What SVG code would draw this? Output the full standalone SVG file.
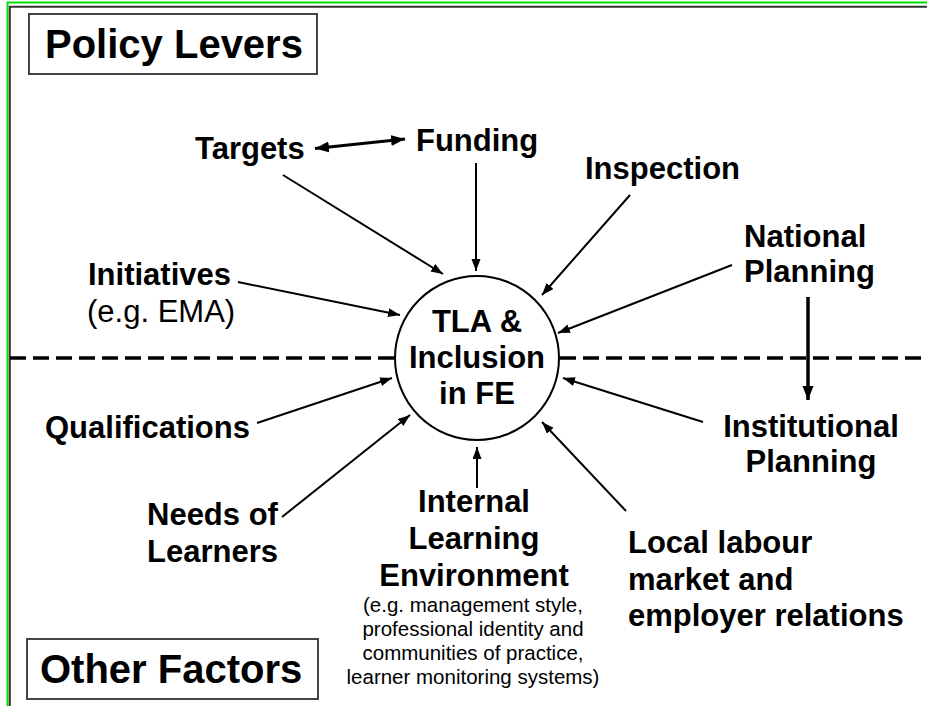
<svg xmlns="http://www.w3.org/2000/svg" width="927" height="706" viewBox="0 0 927 706">
<style>
text{font-family:"Liberation Sans",Arial,sans-serif;fill:#000}
.b{font-weight:bold;font-size:31px}
.r{font-size:31px}
.s{font-size:20.5px}
.t{font-weight:bold;font-size:40px}
.ln{stroke:#000;stroke-width:2;fill:none;marker-end:url(#ah)}
.box{fill:#fff;stroke:#444;stroke-width:2}
</style>
<defs>
<marker id="ah" markerUnits="userSpaceOnUse" markerWidth="13" markerHeight="10" refX="12" refY="4.5" orient="auto"><path d="M0,0 L12,4.5 L0,9 z" fill="#000"/></marker>
<marker id="ahb" markerUnits="userSpaceOnUse" markerWidth="15" markerHeight="12" refX="14" refY="5.5" orient="auto-start-reverse"><path d="M0,0 L14,5.5 L0,11 z" fill="#000"/></marker>
</defs>
<rect width="927" height="706" fill="#fff"/>
<g id="frame">
<path d="M7.5,706 V2.5 H927" fill="none" stroke="#00e000" stroke-width="2"/>
<path d="M9.8,706 V6.7 H927" fill="none" stroke="#333" stroke-width="2"/>
</g>
<g id="divider">
<line x1="10" y1="358" x2="395" y2="358" stroke="#000" stroke-width="3.5" stroke-dasharray="16 7"/>
<line x1="560" y1="358" x2="927" y2="358" stroke="#000" stroke-width="3.5" stroke-dasharray="16 7"/>
</g>
<g id="connectors">
<line x1="315" y1="148.5" x2="405" y2="139" stroke="#000" stroke-width="3.2" marker-start="url(#ahb)" marker-end="url(#ahb)"/>
<line class="ln" x1="283" y1="175" x2="443" y2="274"/>
<line class="ln" x1="476" y1="163" x2="476" y2="271"/>
<line class="ln" x1="630" y1="195" x2="542" y2="295"/>
<line class="ln" x1="732" y1="265" x2="558" y2="333"/>
<line x1="808" y1="297" x2="808" y2="400" stroke="#000" stroke-width="3.5" marker-end="url(#ahb)"/>
<line class="ln" x1="703" y1="422" x2="563" y2="378"/>
<line class="ln" x1="626" y1="511" x2="542" y2="422"/>
<line class="ln" x1="477" y1="488" x2="477" y2="447"/>
<line class="ln" x1="282" y1="517" x2="410" y2="415"/>
<line class="ln" x1="257" y1="423" x2="392" y2="378"/>
<line class="ln" x1="238" y1="282" x2="400" y2="315"/>
</g>
<g id="center">
<circle cx="477" cy="358" r="82" fill="#fff" stroke="#000" stroke-width="2"/>
<text class="b" text-anchor="middle" x="477" y="332">TLA &amp;</text>
<text class="b" text-anchor="middle" x="477" y="368">Inclusion</text>
<text class="b" text-anchor="middle" x="477" y="404">in FE</text>
</g>
<g id="policy-levers">
<rect class="box" x="29" y="14" width="288" height="60"/>
<text class="t" x="45" y="58">Policy Levers</text>
</g>
<g id="other-factors">
<rect class="box" x="27" y="639" width="291" height="60"/>
<text class="t" x="40" y="683">Other Factors</text>
</g>
<g id="targets"><text class="b" x="195" y="159">Targets</text></g>
<g id="funding"><text class="b" x="416" y="151">Funding</text></g>
<g id="inspection"><text class="b" x="585" y="179">Inspection</text></g>
<g id="national-planning">
<text class="b" x="744" y="247">National</text>
<text class="b" x="744" y="282">Planning</text>
</g>
<g id="institutional-planning">
<text class="b" text-anchor="middle" x="811" y="437">Institutional</text>
<text class="b" text-anchor="middle" x="811" y="472">Planning</text>
</g>
<g id="initiatives">
<text class="b" x="88" y="285">Initiatives</text>
<text class="r" x="87" y="322">(e.g. EMA)</text>
</g>
<g id="qualifications"><text class="b" x="45" y="438">Qualifications</text></g>
<g id="needs-of-learners">
<text class="b" x="147" y="525">Needs of</text>
<text class="b" x="147" y="562">Learners</text>
</g>
<g id="internal-learning-environment">
<text class="b" text-anchor="middle" x="474" y="512">Internal</text>
<text class="b" text-anchor="middle" x="474" y="549">Learning</text>
<text class="b" text-anchor="middle" x="474" y="586">Environment</text>
<text class="s" text-anchor="middle" x="473" y="612">(e.g. management style,</text>
<text class="s" text-anchor="middle" x="473" y="636">professional identity and</text>
<text class="s" text-anchor="middle" x="473" y="660">communities of practice,</text>
<text class="s" text-anchor="middle" x="473" y="684">learner monitoring systems)</text>
</g>
<g id="local-labour-market">
<text class="b" x="628" y="553">Local labour</text>
<text class="b" x="628" y="590">market and</text>
<text class="b" x="628" y="626">employer relations</text>
</g>
</svg>
